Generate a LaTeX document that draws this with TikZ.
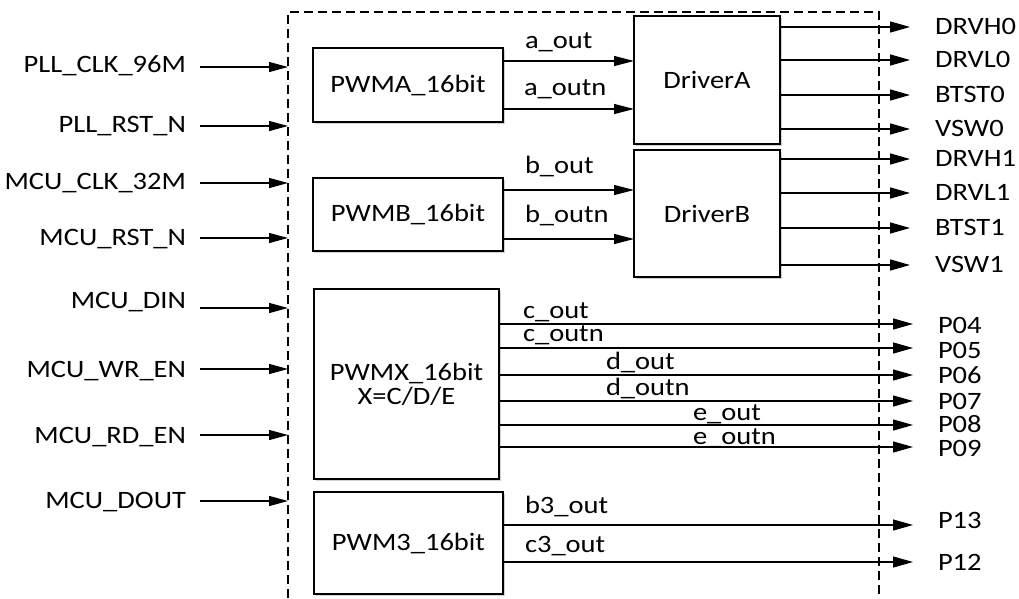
\documentclass[tikz,border=0pt]{standalone}
\usepackage{fontspec}
\setmainfont[FakeStretch=1.14]{Carlito}
\usetikzlibrary{arrows.meta,shadows}
\tikzset{
  txt/.style={font=\fontsize{25pt}{24pt}\selectfont},
  blk/.style={txt, draw, line width=1.3pt, fill=white, inner sep=0pt, align=center,
    drop shadow={shadow xshift=2pt, shadow yshift=-2pt, opacity=0.35, fill=gray}},
  sig/.style={line width=1.3pt, -{Triangle[length=20pt, width=11pt]}},
  lbl/.style={txt, inner sep=0pt, outer sep=0pt}}

\begin{document}
\begin{tikzpicture}[x=1pt, y=-1pt]
  \useasboundingbox (0,0) rectangle (1019,598);
  % frame of the module, open at the bottom
  \draw[line width=1.2pt, dash pattern=on 9pt off 5pt]
    (288,598) -- (288,12) -- (879,12) -- (879,598);

  % blocks
  \node[blk, minimum width=190pt, minimum height=74pt]  (pwma) at (408,85)    {PWMA\_16bit};
  \node[blk, minimum width=190pt, minimum height=73pt]  (pwmb) at (408,214.5) {PWMB\_16bit};
  \node[blk, minimum width=185pt, minimum height=190pt] (pwmx) at (406.5,384) {PWMX\_16bit\\X=C/D/E};
  \node[blk, minimum width=189pt, minimum height=102pt] (pwm3) at (408.5,543) {PWM3\_16bit};
  \node[blk, minimum width=146pt, minimum height=128pt] (drva) at (707,80)    {DriverA};
  \node[blk, minimum width=146pt, minimum height=127pt] (drvb) at (707,213.5) {DriverB};

  % inputs
  \foreach \name/\ay/\by [count=\i] in {PLL\_CLK\_96M/67/72, PLL\_RST\_N/126/132,
      MCU\_CLK\_32M/183/189, MCU\_RST\_N/238/245, MCU\_DIN/308/308,
      MCU\_WR\_EN/369/377, MCU\_RD\_EN/435/443, MCU\_DOUT/501/508}{
    \coordinate (in\i) at (288,\ay);
    \node[lbl, anchor=base east] (inlbl\i) at (186,\by) {\name};
    \draw[sig, -{Triangle[length=19pt, width=10pt]}, shorten <=14pt] (inlbl\i.east |- in\i) -- (in\i);
  }

  % PWMA/PWMB -> drivers
  \coordinate (aout)  at (634,61);
  \coordinate (aoutn) at (634,109);
  \coordinate (bout)  at (634,190);
  \coordinate (boutn) at (634,239);
  \draw[sig, -{Triangle[length=20pt, width=10pt]}] (pwma.east |- aout)  -- (aout);
  \draw[sig, -{Triangle[length=20pt, width=10pt]}] (pwma.east |- aoutn) -- (aoutn);
  \draw[sig, -{Triangle[length=20pt, width=10pt]}] (pwmb.east |- bout)  -- (bout);
  \draw[sig, -{Triangle[length=20pt, width=10pt]}] (pwmb.east |- boutn) -- (boutn);
  \node[lbl, anchor=base west] (aoutlbl)  at (525,48)  {a\_out};
  \node[lbl, anchor=base west] (aoutnlbl) at (524,95)  {a\_outn};
  \node[lbl, anchor=base west] (boutlbl)  at (525,173) {b\_out};
  \node[lbl, anchor=base west] (boutnlbl) at (525,222) {b\_outn};

  % driver outputs
  \foreach \port/\ay [count=\i] in {DRVH0/27, DRVL0/60, BTST0/95, VSW0/129}{
    \coordinate (oa\i) at (910,\ay);
    \draw[sig] (drva.east |- oa\i) -- (oa\i);
    \node[lbl, anchor=base west] (oalbl\i) at (935,\ay+7) {\port};
  }
  \foreach \port/\ay [count=\i] in {DRVH1/159, DRVL1/193, BTST1/228, VSW1/265}{
    \coordinate (ob\i) at (910,\ay);
    \draw[sig] (drvb.east |- ob\i) -- (ob\i);
    \node[lbl, anchor=base west] (oblbl\i) at (935,\ay+7) {\port};
  }

  % PWMX outputs
  \foreach \name/\port/\ay/\lx/\lb/\pb [count=\i] in {c\_out/P04/324/523/318/333,
      c\_outn/P05/348/523/341/358, d\_out/P06/375/606/369/383,
      d\_outn/P07/401/606/395/409, e\_out/P08/425/693/420/432,
      e\_outn/P09/447/693/444/456}{
    \coordinate (ox\i) at (913,\ay);
    \draw[sig] (pwmx.east |- ox\i) -- (ox\i);
    \node[lbl, anchor=base west] (sxlbl\i) at (\lx,\lb) {\name};
    \node[lbl, anchor=base west] (oxlbl\i) at (938,\pb) {\port};
  }

  % PWM3 outputs
  \foreach \name/\port/\ay/\lb/\pb [count=\i] in {b3\_out/P13/525/513/528,
      c3\_out/P12/562/552/570}{
    \coordinate (o3\i) at (913,\ay);
    \draw[sig] (pwm3.east |- o3\i) -- (o3\i);
    \node[lbl, anchor=base west] (s3lbl\i) at (525,\lb) {\name};
    \node[lbl, anchor=base west] (o3lbl\i) at (938,\pb) {\port};
  }
\end{tikzpicture}
\end{document}
